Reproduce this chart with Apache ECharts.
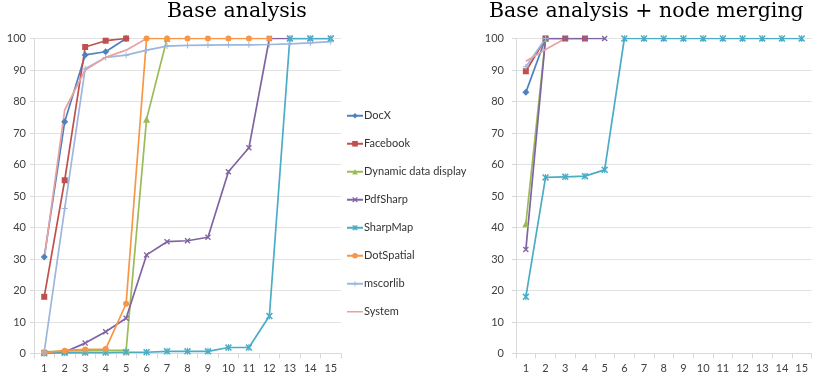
<!DOCTYPE html>
<html>
<head>
<meta charset="utf-8">
<script src="https://cdn.jsdelivr.net/npm/echarts@6/dist/echarts.min.js"></script>
<style>
html,body{margin:0;padding:0;background:#fff;}
#c{width:813px;height:379px;}
</style>
</head>
<body>
<div id="c"></div>
<script>
var categories = ['1','2','3','4','5','6','7','8','9','10','11','12','13','14','15'];
var yTicks = [0,10,20,30,40,50,60,70,80,90,100];
var seriesNames = ['DocX','Facebook','Dynamic data display','PdfSharp','SharpMap','DotSpatial','mscorlib','System'];

// Base analysis
var docxBase     = [30.6, 73.6, 94.8, 95.8, 100];
var facebookBase = [18.0, 55.0, 97.3, 99.3, 100];
var dynamicBase  = [0.5, 0.8, 0.9, 1.0, 1.0, 74.4, 100];
var pdfBase      = [0.3, 0.5, 3.3, 6.9, 11.2, 31.3, 35.5, 35.8, 36.9, 57.7, 65.3, 100, 100, 100, 100];
var sharpBase    = [0.1, 0.2, 0.3, 0.3, 0.4, 0.4, 0.7, 0.7, 0.7, 1.9, 1.9, 11.9, 100, 100, 100];
var dotBase      = [0.3, 0.9, 1.3, 1.4, 15.8, 100, 100, 100, 100, 100, 100, 100];
var msBase       = [0.5, 46.0, 90.4, 94.0, 94.7, 96.3, 97.6, 97.8, 97.9, 98.0, 98.0, 98.1, 98.3, 98.6, 99.0];
var sysBase      = [30.0, 77.3, 90.0, 94.0, 96.3, 100];

// Base analysis + node merging
var docxMerge     = [82.9, 100];
var facebookMerge = [89.6, 100, 100, 100];
var dynamicMerge  = [41.2, 100];
var pdfMerge      = [33.0, 100, 100, 100, 100];
var sharpMerge    = [18.0, 55.9, 56.1, 56.3, 58.3, 100, 100, 100, 100, 100, 100, 100, 100, 100, 100];
var dotMerge      = [];
var msMerge       = [91.0, 100];
var sysMerge      = [92.8, 96.5, 100];

var colors = ['#4F81BD','#C0504D','#9BBB59','#8064A2','#4BACC6','#F79646','#9DB6DE','#E8A2A2'];
var P_X = 'path://M0,1.6L1.6,0L5,3.4L8.4,0L10,1.6L6.6,5L10,8.4L8.4,10L5,6.6L1.6,10L0,8.4L3.4,5Z';
var P_STAR = 'path://M0,1.6L1.6,0L5,3.4L8.4,0L10,1.6L6.6,5L10,8.4L8.4,10L5,6.6L1.6,10L0,8.4L3.4,5Z M4.3,0L5.7,0L5.7,10L4.3,10Z';
var P_PLUS = 'path://M4.2,0L5.8,0L5.8,4.2L10,4.2L10,5.8L5.8,5.8L5.8,10L4.2,10L4.2,5.8L0,5.8L0,4.2L4.2,4.2Z';
var P_LINEONLY = 'path://M0,0L0.01,0L0,0Z M0,2.7L16,2.7L16,4.3L0,4.3Z M16,7L15.99,7L16,7Z';
var symbols = ['diamond','rect','triangle',P_X,P_STAR,'circle',P_PLUS,'none'];
var symSizes = [7,6,7,6,7,6,6,6];

var baseData = [docxBase, facebookBase, dynamicBase, pdfBase, sharpBase, dotBase, msBase, sysBase];
var mergeData = [docxMerge, facebookMerge, dynamicMerge, pdfMerge, sharpMerge, dotMerge, msMerge, sysMerge];

function mk(i, data, idx) {
  return {
    name: seriesNames[i], type: 'line', data: data,
    xAxisIndex: idx, yAxisIndex: idx,
    symbol: symbols[i], symbolSize: symSizes[i], showSymbol: symbols[i] !== 'none',
    lineStyle: {color: colors[i], width: 1.7},
    itemStyle: {color: colors[i]},
    connectNulls: false, animation: false, emphasis: {disabled: true}
  };
}
var series = [];
for (var i = 0; i < seriesNames.length; i++) series.push(mk(i, baseData[i], 0));
for (var i = 0; i < seriesNames.length; i++) series.push(mk(i, mergeData[i], 1));

var legendData = seriesNames.map(function (n, i) {
  return symbols[i] === 'none' ? {name: n, icon: P_LINEONLY} : {name: n};
});

function xAx(gi) {
  return {
    type: 'category', gridIndex: gi, data: categories, boundaryGap: true,
    axisLine: {lineStyle: {color: '#d9d9d9'}},
    axisTick: {show: true, length: 5, lineStyle: {color: '#d9d9d9'}},
    axisLabel: {color: '#404040', fontSize: 11, fontFamily: 'Lato', margin: 9, interval: 0}
  };
}
function yAx(gi, margin) {
  return {
    type: 'value', gridIndex: gi, min: yTicks[0], max: yTicks[yTicks.length-1], interval: 10,
    axisLine: {show: true, lineStyle: {color: '#d9d9d9'}},
    axisTick: {show: true, length: 4, lineStyle: {color: '#d9d9d9'}},
    splitLine: {lineStyle: {color: '#e2e2e2'}},
    axisLabel: {color: '#404040', fontSize: 11, fontFamily: 'Lato', margin: margin}
  };
}

var chart = echarts.init(document.getElementById('c'), null, {renderer: 'canvas'});
chart.setOption({
  animation: false,
  backgroundColor: '#fff',
  title: [
    {text: 'Base analysis', left: 167, top: 1, padding: 0,
     textStyle: {fontFamily: 'DejaVu Serif', fontWeight: 'normal', fontSize: 20.5, color: '#000'}},
    {text: 'Base analysis + node merging', left: 489, top: 1, padding: 0,
     textStyle: {fontFamily: 'DejaVu Serif', fontWeight: 'normal', fontSize: 20.5, color: '#000'}}
  ],
  legend: {
    orient: 'vertical', left: 346, top: 109, padding: 0,
    itemWidth: 16, itemHeight: 7, itemGap: 14.5,
    data: legendData,
    textStyle: {fontFamily: 'Lato', fontSize: 11, color: '#333', padding: [0,0,0,-4], lineHeight: 13.5},
    selectedMode: false
  },
  grid: [
    {left: 34, right: 472, top: 38.5, bottom: 25.5},
    {left: 516, right: 1.5, top: 38.5, bottom: 25.5}
  ],
  xAxis: [xAx(0), xAx(1)],
  yAxis: [yAx(0, 8), yAx(1, 12)],
  series: series
});
</script>
</body>
</html>
